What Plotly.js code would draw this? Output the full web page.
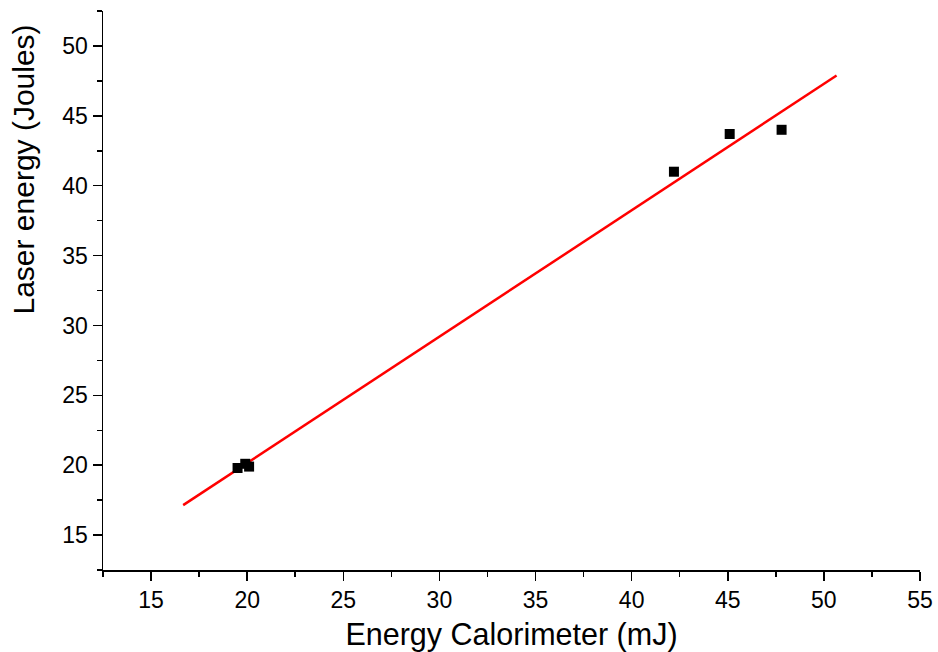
<!DOCTYPE html>
<html>
<head>
<meta charset="utf-8">
<script src="https://cdn.plot.ly/plotly-3.0.1.min.js"></script>
<style>html,body{margin:0;padding:0;background:#fff;}#chart{width:938px;height:652px;}</style>
</head>
<body>
<div id="chart"></div>
<script>
// Measured data points (Energy Calorimeter mJ vs Laser energy J)
var calorimeterMJ = [19.5, 19.9, 20.1, 42.2, 45.1, 47.8];
var laserJoules   = [19.8, 20.1, 19.9, 41.0, 43.7, 44.0];
// Linear fit line endpoints
var fitX = [16.67, 50.66];
var fitY = [17.14, 47.88];

var xTitle = 'Energy Calorimeter (mJ)';
var yTitle = 'Laser energy (Joules)';

var traces = [
  {x: fitX, y: fitY, type: 'scatter', mode: 'lines',
   line: {color: '#ff0000', width: 2.5}, hoverinfo: 'skip', showlegend: false},
  {x: calorimeterMJ, y: laserJoules, type: 'scatter', mode: 'markers',
   marker: {symbol: 'square', size: 10, color: '#000000'}, showlegend: false}
];

var font = 'Liberation Sans, Arial, sans-serif';
var layout = {
  width: 938, height: 652,
  margin: {l: 103, r: 18, t: 11, b: 82},
  paper_bgcolor: '#ffffff', plot_bgcolor: '#ffffff',
  showlegend: false,
  font: {family: font, color: '#000'},
  xaxis: {
    range: [12.5, 55], tick0: 15, dtick: 5, ticks: 'outside', ticklen: 9, tickwidth: 1.5,
    tickcolor: '#000', showline: true, linecolor: '#000', linewidth: 1.5,
    showgrid: false, zeroline: false, tickfont: {size: 23, family: font},
    minor: {dtick: 2.5, tick0: 12.5, ticks: 'outside', ticklen: 5, tickwidth: 1.5, tickcolor: '#000', showgrid: false},
    title: {text: xTitle, font: {size: 30.5, family: font}, standoff: 12}
  },
  yaxis: {
    range: [12.5, 52.5], tick0: 15, dtick: 5, ticks: 'outside', ticklen: 9, tickwidth: 1.5,
    tickcolor: '#000', showline: true, linecolor: '#000', linewidth: 1.5,
    showgrid: false, zeroline: false, tickfont: {size: 23, family: font},
    minor: {dtick: 2.5, tick0: 12.5, ticks: 'outside', ticklen: 5, tickwidth: 1.5, tickcolor: '#000', showgrid: false}
  },
  annotations: [{
    text: yTitle, xref: 'paper', yref: 'paper', x: -0.0975, y: 0.717,
    xanchor: 'center', yanchor: 'middle', textangle: -90, showarrow: false,
    font: {size: 30, family: font, color: '#000'}
  }]
};

Plotly.newPlot('chart', traces, layout, {displayModeBar: false, staticPlot: true});
</script>
</body>
</html>
